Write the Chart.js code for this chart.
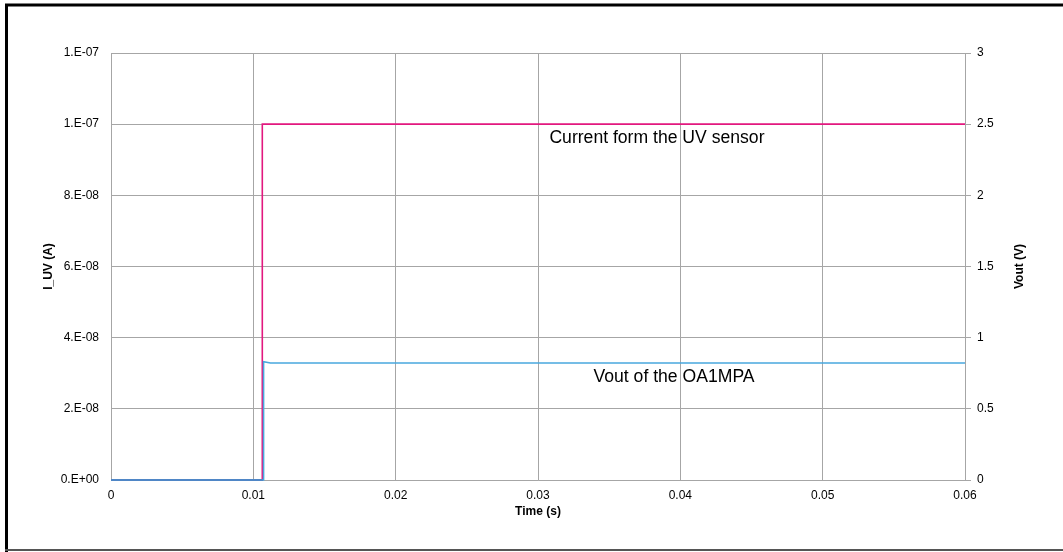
<!DOCTYPE html>
<html>

<head>
    <title>UV sensor step response</title>
    <script src="https://cdn.jsdelivr.net/npm/chart.js"></script>
    <style>
        body { margin: 0; background: #fff; }
        #wrap { position: relative; width: 1063px; height: 552px; }
    </style>
</head>

<body>
    <div id="wrap"><canvas id="uvChart"></canvas></div>

    <script>
        // Time axis (s)
        const xTicks = [0, 0.01, 0.02, 0.03, 0.04, 0.05, 0.06];
        const xTickLabels = ['0', '0.01', '0.02', '0.03', '0.04', '0.05', '0.06'];

        // Left axis: I_UV (A), Excel "0.E+00" format
        const leftTicks = [0, 2e-8, 4e-8, 6e-8, 8e-8, 1e-7, 1.2e-7];
        const leftTickLabels = ['0.E+00', '2.E-08', '4.E-08', '6.E-08', '8.E-08', '1.E-07', '1.E-07'];

        // Right axis: Vout (V)
        const rightTicks = [0, 0.5, 1, 1.5, 2, 2.5, 3];
        const rightTickLabels = ['0', '0.5', '1', '1.5', '2', '2.5', '3'];

        // Current form the UV sensor (A)
        const currentTime = [0, 0.01063, 0.01063, 0.06];
        const currentValue = [0, 0, 1e-7, 1e-7];

        // Vout of the OA1MPA (V)
        const voutTime = [0, 0.01068, 0.01072, 0.0112, 0.06];
        const voutValue = [0, 0, 0.831, 0.822, 0.822];

        const toPoints = (xs, ys) => xs.map((x, i) => ({ x: x, y: ys[i] }));

        const gridGray = '#a6a6a6';
        const tickFont = { family: 'Liberation Sans, Arial, sans-serif', size: 12 };
        const titleFont = { family: 'Liberation Sans, Arial, sans-serif', size: 12, weight: 'bold' };

        // frame, right title and the two in-plot labels
        const extras = {
            id: 'extras',
            afterDraw(chart) {
                const c = chart.ctx;
                const x = chart.scales.x, yl = chart.scales.yLeft, yr = chart.scales.yRight;
                c.save();
                c.fillStyle = '#000';
                c.font = '17.6px Liberation Sans, Arial, sans-serif';
                c.textBaseline = 'middle';
                c.textAlign = 'left';
                c.fillText('Current form the UV sensor', x.getPixelForValue(0.0308), yl.getPixelForValue(9.62e-8));
                c.fillText('Vout of the OA1MPA', x.getPixelForValue(0.0339), yr.getPixelForValue(0.724));

                // right axis title, reads bottom to top
                c.font = 'bold 12px Liberation Sans, Arial, sans-serif';
                c.textAlign = 'center';
                c.translate(1020, (chart.chartArea.top + chart.chartArea.bottom) / 2);
                c.rotate(-Math.PI / 2);
                c.fillText('Vout (V)', 0, 0);
                c.restore();

                c.save();
                c.strokeStyle = '#000';
                c.lineWidth = 3;
                c.beginPath();
                c.moveTo(6.5, 552);
                c.lineTo(6.5, 5);
                c.lineTo(1063, 5);
                c.stroke();
                c.strokeStyle = '#555';
                c.lineWidth = 2;
                c.beginPath();
                c.moveTo(5, 550);
                c.lineTo(1063, 550);
                c.stroke();
                c.restore();
            }
        };

        const ctx = document.getElementById('uvChart').getContext('2d');
        const uvChart = new Chart(ctx, {
            type: 'scatter',
            data: {
                datasets: [
                    {
                        label: 'Current form the UV sensor',
                        data: toPoints(currentTime, currentValue),
                        yAxisID: 'yLeft',
                        showLine: true,
                        borderColor: '#e2187f',
                        borderWidth: 1.6,
                        pointRadius: 0,
                        tension: 0,
                        clip: false,
                        order: 2
                    },
                    {
                        label: 'Vout of the OA1MPA',
                        data: toPoints(voutTime, voutValue),
                        yAxisID: 'yRight',
                        showLine: true,
                        borderColor: '#48a8de',
                        borderWidth: 1.6,
                        pointRadius: 0,
                        tension: 0,
                        clip: false,
                        order: 1,
                        segment: {
                            // the flat part at zero overlaps the current trace and looks darker
                            borderColor: s => (s.p0.parsed.y === 0 && s.p1.parsed.y === 0) ? '#4f86c6' : undefined,
                            borderWidth: s => (s.p0.parsed.y === 0 && s.p1.parsed.y === 0) ? 2.2 : undefined
                        }
                    }
                ]
            },
            options: {
                responsive: true,
                maintainAspectRatio: false,
                animation: false,
                layout: { padding: { top: 53, left: 0, right: 0, bottom: 0 } },
                plugins: { legend: { display: false }, tooltip: { enabled: false } },
                scales: {
                    x: {
                        type: 'linear',
                        min: 0,
                        max: 0.06,
                        afterBuildTicks: s => { s.ticks = xTicks.map(v => ({ value: v })); },
                        afterFit: s => { s.height = 72; },
                        grid: { color: gridGray, drawTicks: false },
                        border: { color: gridGray },
                        ticks: {
                            font: tickFont,
                            color: '#000',
                            padding: 8,
                            maxRotation: 0,
                            callback: (v, i) => xTickLabels[i]
                        },
                        title: { display: true, text: 'Time (s)', font: titleFont, color: '#000', padding: { top: 0, bottom: 33 } }
                    },
                    yLeft: {
                        type: 'linear',
                        position: 'left',
                        min: 0,
                        max: 1.2e-7,
                        afterBuildTicks: s => { s.ticks = leftTicks.map(v => ({ value: v })); },
                        afterFit: s => { s.width = 111; },
                        grid: { color: gridGray, drawTicks: false },
                        border: { color: gridGray },
                        ticks: {
                            font: tickFont,
                            color: '#000',
                            padding: 12,
                            callback: (v, i) => leftTickLabels[i]
                        },
                        title: { display: true, text: 'I_UV (A)', font: titleFont, color: '#000', padding: { top: 41, bottom: 0 } }
                    },
                    yRight: {
                        type: 'linear',
                        position: 'right',
                        min: 0,
                        max: 3,
                        afterBuildTicks: s => { s.ticks = rightTicks.map(v => ({ value: v })); },
                        afterFit: s => { s.width = 98; },
                        grid: { color: gridGray, drawOnChartArea: false, tickLength: 6 },
                        border: { color: gridGray },
                        ticks: {
                            font: tickFont,
                            color: '#000',
                            padding: 6,
                            callback: (v, i) => rightTickLabels[i]
                        }
                    }
                }
            },
            plugins: [extras]
        });
    </script>
</body>

</html>
